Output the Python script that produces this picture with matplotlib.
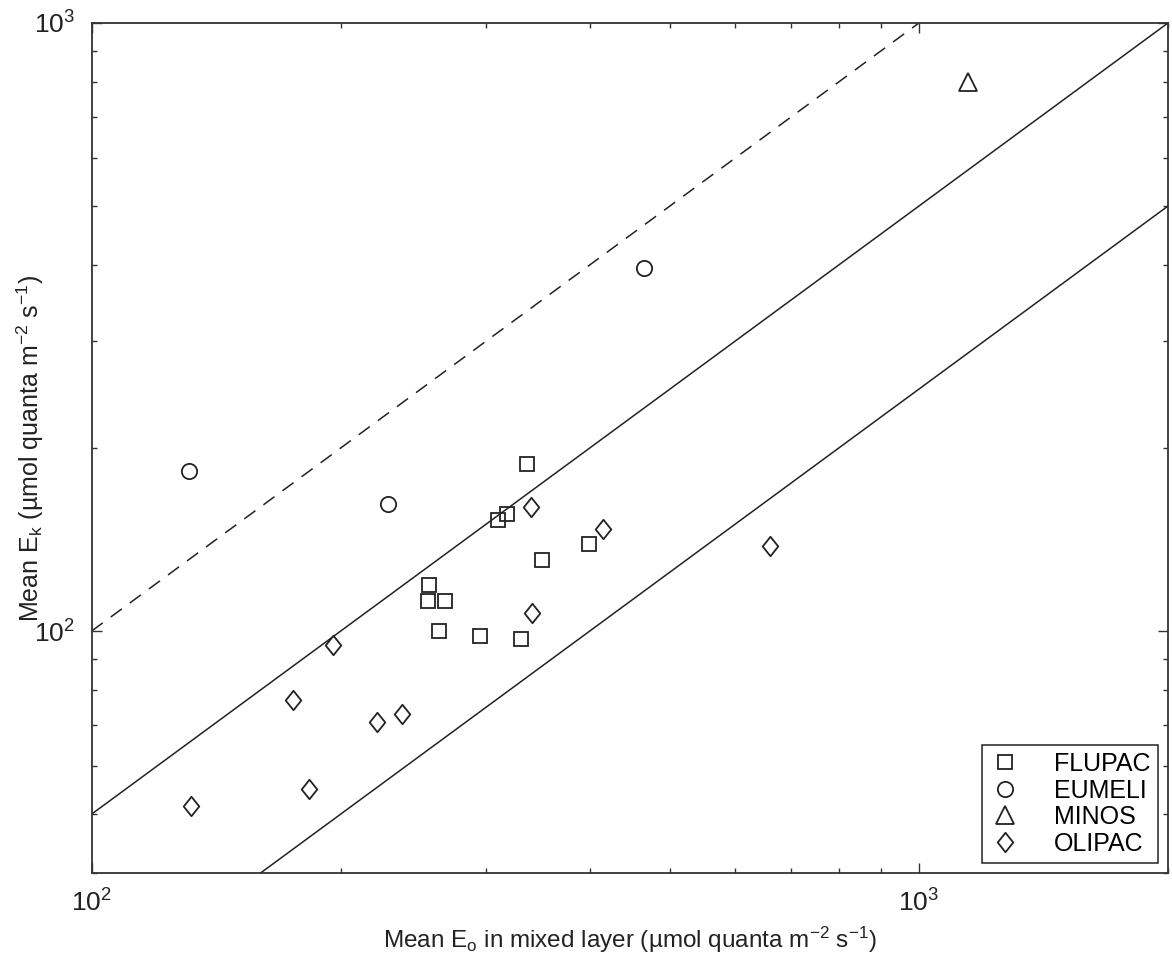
import numpy as np
import matplotlib
matplotlib.use("Agg")
import matplotlib.pyplot as plt
from matplotlib.path import Path

plt.rcParams['font.family'] = ['Liberation Sans', 'DejaVu Sans']
plt.rcParams['mathtext.fontset'] = 'custom'
plt.rcParams['mathtext.rm'] = 'Liberation Sans'
plt.rcParams['mathtext.it'] = 'Liberation Sans:italic'
plt.rcParams['mathtext.default'] = 'regular'

# ---- data ----
flupac_x = [336, 310, 318, 350, 399, 256, 255, 267, 263, 295, 330]
flupac_y = [188, 152, 156, 131, 139, 119, 112, 112, 100, 98, 97]

eumeli_x = [131, 228, 465]
eumeli_y = [183, 162, 396]

minos_x = [1145]
minos_y = [801]

olipac_x = [340, 415, 341, 661, 196, 175, 221, 237, 183, 132]
olipac_y = [160, 147, 107, 138, 95, 77, 71, 73, 55, 51.6]

# reference lines Ek = ratio * Eo
dashed_ratio = 1.0
dashed_xrange = [100, 1000]
solid_ratios = [0.5, 0.25]
solid_xrange = [100, 2000]

x_limits = [100, 2000]
y_limits = [40, 1000]

xlabel = 'Mean E$_{o}$ in mixed layer (\u00b5mol quanta m$^{-2}$ s$^{-1}$)'
ylabel = 'Mean E$_{k}$ (\u00b5mol quanta m$^{-2}$ s$^{-1}$)'

# ---- figure ----
fig = plt.figure(figsize=(11.72, 9.65), dpi=100)
ax = fig.add_axes([0.0782, 0.0953, 0.9184, 0.8809])
ax.set_xscale('log')
ax.set_yscale('log')
ax.set_xlim(x_limits)
ax.set_ylim(y_limits)

lw = 1.1
xd = np.array(dashed_xrange, dtype=float)
ax.plot(xd, dashed_ratio * xd, color='#222222', lw=lw, dashes=(9, 6.5))
xs = np.array(solid_xrange, dtype=float)
for r in solid_ratios:
    ax.plot(xs, r * xs, color='#222222', lw=lw)

diamond = Path([(0, 1), (0.8, 0), (0, -1), (-0.8, 0), (0, 1)],
               [Path.MOVETO, Path.LINETO, Path.LINETO, Path.LINETO, Path.CLOSEPOLY])

mk = dict(linestyle='none', markerfacecolor='none', markeredgecolor='#222222',
          markeredgewidth=1.3)
ax.plot(flupac_x, flupac_y, marker='s', markersize=9.5, label='FLUPAC', **mk)
ax.plot(eumeli_x, eumeli_y, marker='o', markersize=11, label='EUMELI', **mk)
ax.plot(minos_x, minos_y, marker='^', markersize=13, label='MINOS', **mk)
ax.plot(olipac_x, olipac_y, marker=diamond, markersize=14, label='OLIPAC', **mk)

# ticks
ax.tick_params(which='both', direction='in', top=True, right=True,
               colors='#333333', labelcolor='#222222')
ax.tick_params(which='major', length=7, width=1.0, labelsize=19, pad=12)
ax.tick_params(which='minor', length=3.5, width=1.0)
ax.set_xticks([100, 1000])
ax.set_xticklabels(['$10^{2}$', '$10^{3}$'])
ax.set_yticks([100, 1000])
ax.set_yticklabels(['$10^{2}$', '$10^{3}$'])
for s in ax.spines.values():
    s.set_linewidth(1.3)
    s.set_color('#333333')

ax.set_xlabel(xlabel, fontsize=17.5, color='#222222', labelpad=6)
ax.set_ylabel(ylabel, fontsize=18, color='#222222')
ax.yaxis.set_label_coords(-0.042, 0.5)

leg = ax.legend(loc='lower right', fontsize=18, frameon=True, fancybox=False,
                edgecolor='#222222', framealpha=1, handlelength=1.3,
                handletextpad=1.3, borderpad=0.3, labelspacing=0.1,
                borderaxespad=0.4, numpoints=1)
leg.get_frame().set_linewidth(1.1)

fig.savefig('out.png', dpi=100)
